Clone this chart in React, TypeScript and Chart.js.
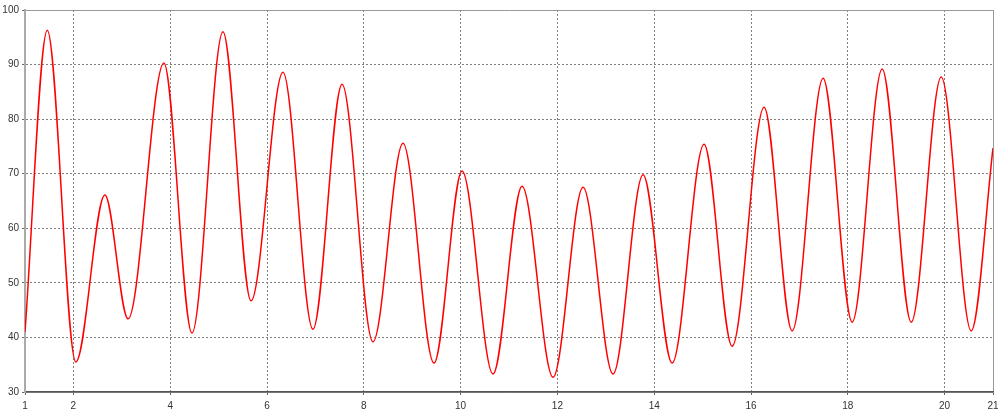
import React, { useEffect, useRef } from "react";
import { Chart, registerables } from "chart.js";

Chart.register(...registerables);

// x positions of the sampled points (start, alternating peaks/troughs, end)
const xValues: number[] = [
  1, 1.46, 2.05, 2.65, 3.13, 3.87, 4.45, 5.09, 5.67, 6.33, 6.95, 7.55, 8.19,
  8.81, 9.45, 10.03, 10.67, 11.27, 11.91, 12.53, 13.15, 13.77, 14.37, 15.03,
  15.61, 16.27, 16.85, 17.49, 18.09, 18.71, 19.31, 19.93, 20.55, 21,
];
const yValues: number[] = [
  41.0, 96.3, 35.5, 66.1, 43.4, 90.3, 40.8, 96.0, 46.7, 88.6, 41.5, 86.4, 39.2,
  75.6, 35.3, 70.5, 33.3, 67.7, 32.7, 67.5, 33.3, 69.8, 35.3, 75.4, 38.4, 82.2,
  41.2, 87.5, 42.8, 89.2, 42.8, 87.7, 41.2, 74.7,
];
const xTicks: number[] = [1, 2, 4, 6, 8, 10, 12, 14, 16, 18, 20, 21];
const yTicks: number[] = [30, 40, 50, 60, 70, 80, 90, 100];

export default function App() {
  const canvasRef = useRef<HTMLCanvasElement | null>(null);

  useEffect(() => {
    document.body.style.margin = "0";
    const canvas = canvasRef.current;
    if (!canvas) return;
    const points = xValues.map((x, i) => ({ x, y: yValues[i] }));
    const font = { family: "'Liberation Sans', Arial, sans-serif", size: 10 };
    const chart = new Chart(canvas, {
      type: "line",
      data: {
        datasets: [
          {
            data: points,
            borderColor: "#ff0000",
            borderWidth: 1.5,
            pointRadius: 0,
            fill: false,
            cubicInterpolationMode: "monotone",
          },
        ],
      },
      options: {
        animation: false,
        responsive: true,
        maintainAspectRatio: false,
        layout: { padding: { top: 10, right: 5, left: 0, bottom: 0 } },
        plugins: {
          legend: { display: false },
          tooltip: { enabled: false },
        },
        scales: {
          x: {
            type: "linear",
            min: 1,
            max: 21,
            afterBuildTicks: (scale: any) => {
              scale.ticks = xTicks.map((v) => ({ value: v }));
            },
            afterFit: (scale: any) => {
              scale.height = 23;
              scale.paddingLeft = 0;
              scale.paddingRight = 0;
            },
            ticks: {
              autoSkip: false,
              maxRotation: 0,
              color: "#333",
              font,
              padding: 5,
              callback: (v: any) => String(v),
            },
            grid: {
              color: (ctx: any) =>
                ctx.tick && (ctx.tick.value === 1 || ctx.tick.value === 21)
                  ? "#999"
                  : "#808080",
              lineWidth: 1,
              tickLength: 3,
              tickColor: "#666",
            },
            border: {
              display: true,
              color: "#555",
              width: 1.5,
              dash: (ctx: any) =>
                ctx.tick && (ctx.tick.value === 1 || ctx.tick.value === 21)
                  ? []
                  : [2, 2],
            },
          },
          y: {
            type: "linear",
            min: 30,
            max: 100,
            afterBuildTicks: (scale: any) => {
              scale.ticks = yTicks.map((v) => ({ value: v }));
            },
            afterFit: (scale: any) => {
              scale.width = 25;
              scale.paddingTop = 0;
              scale.paddingBottom = 0;
            },
            ticks: {
              color: "#333",
              font,
              padding: 3,
              callback: (v: any) => String(v),
            },
            grid: {
              color: (ctx: any) =>
                ctx.tick && (ctx.tick.value === 100 || ctx.tick.value === 30)
                  ? "#999"
                  : "#808080",
              lineWidth: 1,
              tickLength: 3,
              tickColor: "#666",
            },
            border: {
              display: true,
              color: "#aaa",
              width: 2,
              dash: (ctx: any) =>
                ctx.tick && (ctx.tick.value === 100 || ctx.tick.value === 30)
                  ? []
                  : [2, 2],
            },
          },
        },
      } as any,
    });
    return () => chart.destroy();
  }, []);

  return (
    <div style={{ position: "absolute", left: 0, top: 0, width: 998, height: 415, background: "#fff" }}>
      <canvas ref={canvasRef} />
    </div>
  );
}
